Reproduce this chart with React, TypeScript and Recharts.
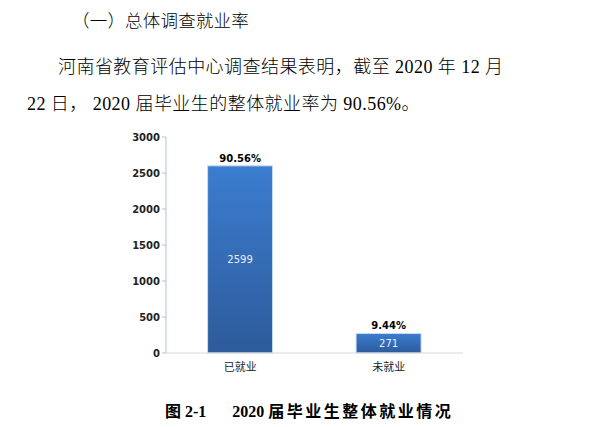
import React from "react";
import { BarChart, Bar, XAxis, YAxis, LabelList } from "recharts";

const categories = ["已就业", "未就业"];
const counts = [2599, 271];
const shares = ["90.56%", "9.44%"];
const yTicks = [0, 500, 1000, 1500, 2000, 2500, 3000];

const data = categories.map((c, i) => ({ name: c, value: counts[i], share: shares[i] }));

const cjk = "'Liberation Serif', 'Noto Sans CJK SC', serif";

export default function App() {
  return (
    <div style={{ position: "absolute", left: 0, top: 0, width: 608, height: 427, background: "#fff", overflow: "hidden" }}>
      <div style={{ position: "absolute", left: 72, top: 7, fontSize: 17.5, fontFamily: cjk, color: "#000", whiteSpace: "nowrap", fontWeight: 300, letterSpacing: 0.2 }}>
        （一）总体调查就业率
      </div>
      <div style={{ position: "absolute", left: 58, top: 52, fontSize: 18, fontFamily: cjk, color: "#000", whiteSpace: "nowrap", fontWeight: 300, letterSpacing: 0.45 }}>
        河南省教育评估中心调查结果表明，截至 2020 年 12 月
      </div>
      <div style={{ position: "absolute", left: 27, top: 89, fontSize: 18, fontFamily: cjk, color: "#000", whiteSpace: "nowrap", fontWeight: 300, letterSpacing: 0.45 }}>
        22 日，  2020 届毕业生的整体就业率为 90.56%。
      </div>
      <div style={{ position: "absolute", left: 120, top: 120 }}>
        <BarChart width={360} height={265} data={data} margin={{ top: 17, right: 17, bottom: 2, left: 0 }} barCategoryGap="28%">
          <defs>
            <linearGradient id="barGrad" x1="0" y1="0" x2="0" y2="1">
              <stop offset="0%" stopColor="#3b7dd0" />
              <stop offset="100%" stopColor="#2d5b9b" />
            </linearGradient>
          </defs>
          <XAxis
            dataKey="name"
            axisLine={{ stroke: "#d9d9d9" }}
            tickLine={false}
            height={30}
            tick={{ fontSize: 11, fill: "#222", fontFamily: "'Noto Sans CJK SC', sans-serif" }}
            tickMargin={4}
          />
          <YAxis
            width={46}
            domain={[0, 3000]}
            ticks={yTicks}
            axisLine={{ stroke: "#a9c3e2" }}
            tickLine={{ stroke: "#a9c3e2" }}
            tickSize={4}
            tick={{ fontSize: 10, fill: "#222", fontFamily: "'DejaVu Sans', sans-serif", fontWeight: 600 }}
          />
          <Bar dataKey="value" fill="url(#barGrad)" stroke="#c9dbf0" strokeWidth={1} isAnimationActive={false}>
            <LabelList dataKey="share" position="top" offset={4} style={{ fontSize: 10, fill: "#000", fontWeight: 700, fontFamily: "'DejaVu Sans', sans-serif" }} />
            <LabelList dataKey="value" position="center" style={{ fontSize: 10, fill: "#e8eef8", fontFamily: "'DejaVu Sans', sans-serif" }} />
          </Bar>
        </BarChart>
      </div>
      <div style={{ position: "absolute", left: 165, top: 398, fontSize: 16, fontFamily: cjk, color: "#000", whiteSpace: "nowrap", fontWeight: 700 }}>
        <span>图 2-1</span>
        <span style={{ display: "inline-block", width: 26 }} />
        <span>2020 </span>
        <span style={{ letterSpacing: 2.5 }}>届毕业生整体就业情况</span>
      </div>
    </div>
  );
}
